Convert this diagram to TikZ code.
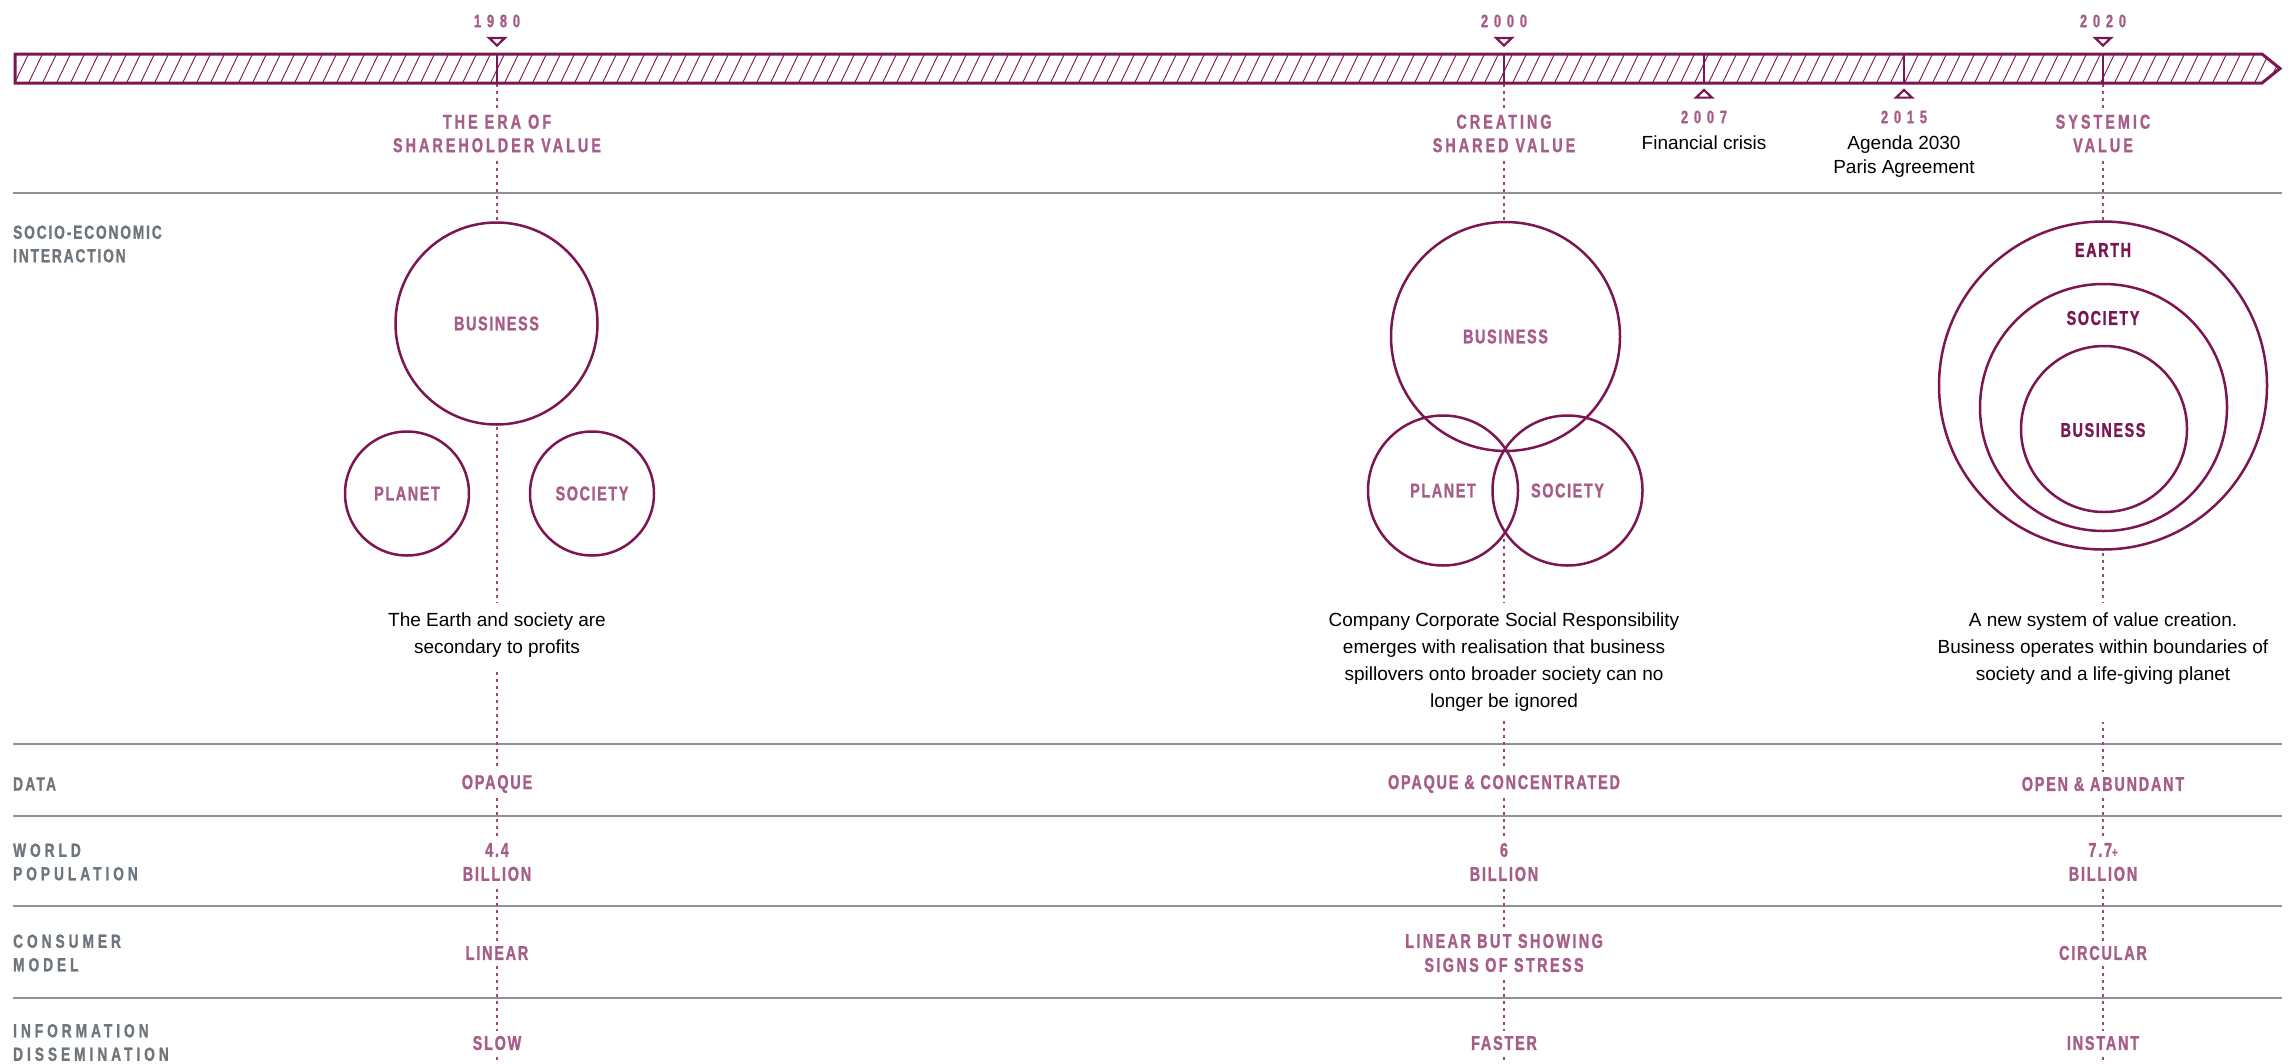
\documentclass[tikz,border=0pt]{standalone}
\usepackage{fontspec}
\setmainfont{Liberation Sans}
\newfontfamily\condfont[FakeStretch=0.72,FakeBold=1.2]{Liberation Sans Bold}
\usetikzlibrary{positioning}

\definecolor{plum}{RGB}{123,22,82}
\definecolor{rose}{RGB}{166,94,136}
\definecolor{slate}{RGB}{110,118,125}
\definecolor{rulegray}{RGB}{140,146,151}
\definecolor{guidepink}{RGB}{158,70,122}

\newcommand{\yearfont}{\fontsize{18}{22}\condfont\addfontfeature{LetterSpace=32}}
\newcommand{\headfont}{\fontsize{20}{23.5}\condfont\addfontfeature{LetterSpace=15}}
\newcommand{\valfont}{\fontsize{20}{24}\condfont\addfontfeature{LetterSpace=9}}
\newcommand{\ringfont}{\fontsize{20}{24}\condfont\addfontfeature{LetterSpace=8}}
\newcommand{\rowfont}{\fontsize{19}{23.5}\condfont}

\tikzset{
  yearlab/.style={font=\yearfont, text=rose, inner sep=2pt},
  head/.style={font=\headfont, text=rose, align=center, fill=white, inner sep=6pt},
  desc/.style={font=\fontsize{19}{26.7}\selectfont, align=center, fill=white, inner sep=10pt, anchor=north},
  evtxt/.style={font=\fontsize{19}{24}\selectfont, align=center, inner sep=0pt},
  val/.style={font=\valfont, text=rose, align=center, fill=white, inner sep=5pt},
  rowlab/.style={font={\rowfont\addfontfeature{LetterSpace=#1}}, text=slate, align=left, anchor=west, inner sep=0pt},
  rowlab/.default=21,
  ring/.style={circle, draw=plum, line width=2.5pt, inner sep=0pt, font=\ringfont, text=rose},
  grayrule/.style={draw=rulegray, line width=2pt},
  guide/.style={draw=guidepink, line width=1.6pt, dash pattern=on 3pt off 4pt},
  hatch/.style={draw=plum, line width=0.9pt},
  timebar/.style={draw=plum, line width=3pt, line join=miter},
  yeartick/.style={draw=plum, line width=2.5pt},
  tri/.style={draw=plum, fill=white, line width=2.2pt, line join=miter},
  downtri/.pic={\draw[tri] (-8,-3.6) -- (8,-3.6) -- (0,4) -- cycle;},
  uptri/.pic={\draw[tri] (-8,3.6) -- (8,3.6) -- (0,-4) -- cycle;}
}

\def\rings{b_80/496.5/323.5/101/BUSINESS, p_80/407/493.5/62/PLANET, s_80/592/493.5/62/SOCIETY,
  b_00/1505.5/336.5/114.5/BUSINESS, p_00/1443/490.5/75/PLANET, s_00/1567.5/490.5/75/SOCIETY,
  e_20/2103/385.5/164/{}, m_20/2103.5/407.5/123.5/{}, i_20/2104/429/83/{}}

\begin{document}
\begin{tikzpicture}[x=1pt,y=-1pt]
\useasboundingbox (0,0) rectangle (2294,1063);

% rows
\foreach \y in {193,744,816,906,998}
  \draw[grayrule] (13,\y) -- (2282,\y);

\foreach \x in {497,1504,2103} {
  \coordinate (g_top_\x) at (\x,84);
  \coordinate (g_bot_\x) at (\x,1063);
  \draw[guide] (g_top_\x) -- (g_bot_\x);
}

% circles: white discs first, outlines after
\foreach \n/\x/\y/\r/\t in \rings \fill[white] (\x,\y) circle (\r);
\foreach \n/\x/\y/\r/\t in \rings \node[ring, minimum size=2*\r] (\n) at (\x,\y) {\t};

\node[font=\ringfont, text=plum] (l_earth) at (2103,250) {EARTH};
\node[font=\ringfont, text=plum] (l_soc) at (2103,318) {SOCIETY};
\node[font=\ringfont, text=plum] (l_biz) at (2103,430) {BUSINESS};

\node[head] (h_80) at (497,133.5) {THE ERA OF\\SHAREHOLDER VALUE};
\node[head] (h_00) at (1504,133.5) {CREATING\\SHARED VALUE};
\node[head] (h_20) at (2103,133.5) {SYSTEMIC\\VALUE};

\node[desc] (d_80) at (497,603) {The Earth and society are\\secondary to profits};
\node[desc] (d_00) at (1504,603) {Company Corporate Social Responsibility\\emerges with realisation that business\\spillovers onto broader society can no\\longer be ignored};
\node[desc, text depth=32pt] (d_20) at (2103,603) {A new system of value creation.\\Business operates within boundaries of\\society and a life-giving planet};

\node[rowlab=10] (r_soc) at (13,244) {SOCIO-ECONOMIC\\INTERACTION};
\node[rowlab=12] (r_data) at (13,784) {DATA};
\node[rowlab] (r_pop) at (13,862) {WORLD\\POPULATION};
\node[rowlab] (r_cons) at (13,953) {CONSUMER\\MODEL};
\node[rowlab] (r_info) at (13,1042.5) {INFORMATION\\DISSEMINATION};

\node[val] (v_data80) at (497,784) {OPAQUE};
\node[val] (v_data00) at (1504,784) {OPAQUE \& CONCENTRATED};
\node[val] (v_data20) at (2103,784) {OPEN \& ABUNDANT};
\node[val] (v_pop80) at (497,862) {4.4\\BILLION};
\node[val] (v_pop00) at (1504,862) {6\\BILLION};
\node[val] (v_pop20) at (2103,862) {7.7{\fontsize{13}{13}\selectfont+}\\BILLION};
\node[val] (v_cons80) at (497,953) {LINEAR};
\node[val, font=\valfont\addfontfeature{LetterSpace=12}] (v_cons00) at (1504,953) {LINEAR BUT SHOWING\\SIGNS OF STRESS};
\node[val] (v_cons20) at (2103,953) {CIRCULAR};
\node[val] (v_info80) at (497,1043) {SLOW};
\node[val] (v_info00) at (1504,1043) {FASTER};
\node[val] (v_info20) at (2103,1043) {INSTANT};

% timeline
\begin{scope}
  \clip (15,54) -- (2262,54) -- (2280,68.5) -- (2262,83) -- (15,83) -- cycle;
  \foreach \h in {0,14,...,2290}
    \draw[hatch] (\h,84) -- ++(15,-31);
\end{scope}
\draw[timebar] (15,54) -- (2262,54) -- (2280,68.5) -- (2262,83) -- (15,83) -- cycle;
\foreach \x in {497,1504,1704,1904,2103}
  \draw[yeartick] (\x,54) -- (\x,83);

\foreach \x/\yr in {497/1980,1504/2000,2103/2020} {
  \node[yearlab] (y_\yr) at (\x,21) {\yr};
  \pic at (\x,41.5) {downtri};
}
\pic at (1704,94) {uptri};
\pic at (1904,94) {uptri};
\node[yearlab] (y_2007) at (1704,117) {2007};
\node[evtxt, below=10pt of y_2007] (e_2007) {Financial crisis};
\node[yearlab] (y_2015) at (1904,117) {2015};
\node[evtxt, below=10pt of y_2015] (e_2015) {Agenda 2030\\Paris Agreement};
\end{tikzpicture}
\end{document}
